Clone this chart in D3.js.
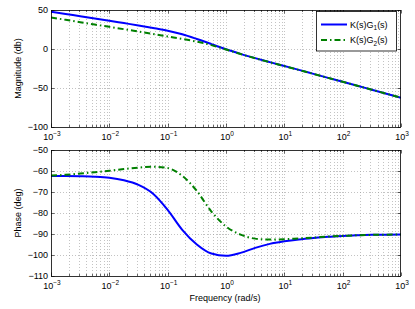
<!DOCTYPE html>
<html><head><meta charset="utf-8">
<script src="https://cdn.jsdelivr.net/npm/d3@7"></script>
<style>
body{margin:0;background:#fff}
text{font-family:"Liberation Sans",Arial,Helvetica,sans-serif;font-size:9px;fill:#000}
</style>
</head><body>
<svg id="c" width="415" height="309"></svg>
<script>
// ---- data ----
const logFreq = [-3,-2.75,-2.5,-2.25,-2,-1.75,-1.5,-1.25,-1,-0.75,-0.5,-0.25,0,0.25,0.5,0.75,1,1.25,1.5,1.75,2,2.25,2.5,2.75,3];
const magG1 = [47.8,44.9,42,39.1,36.2,33.2,30.2,27,23.5,18.8,12.8,6.3,-0.4,-6.3,-11.7,-16.8,-21.8,-26.8,-31.9,-37,-42.1,-47.1,-52.2,-57.3,-62.4];
const magG2 = [40.5,37.4,34.3,31.3,28.4,25.4,22.3,19.2,16,12.9,9.4,5,-0.6,-6.5,-11.9,-16.9,-21.9,-26.9,-31.9,-37,-42.1,-47.1,-52.2,-57.3,-62.4];
const phaseG1 = [-62.4,-62.4,-62.5,-62.7,-63.2,-64.4,-66.6,-70.8,-78.5,-88,-95,-99.3,-100.4,-99,-96.6,-94.7,-93.5,-92.6,-91.9,-91.3,-90.9,-90.6,-90.4,-90.3,-90.2];
const phaseG2 = [-62.2,-61.8,-61.2,-60.6,-59.9,-59.1,-58.4,-58,-58.6,-62.3,-69.5,-79.3,-86.4,-90.3,-92.2,-92.6,-92.5,-92.1,-91.7,-91.2,-90.9,-90.6,-90.4,-90.3,-90.2];
const xTickExps = [-3,-2,-1,0,1,2,3];
const magTicks = [-100,-50,0,50];
const phaseTicks = [-110,-100,-90,-80,-70,-60,-50];
const seriesNames = ["1","2"];
const xLabel = "Frequency (rad/s)";
const magLabel = "Magnitude (db)";
const phaseLabel = "Phase (deg)";

const svg = d3.select("#c");
const X0 = 51, X1 = 401;
const x = d3.scaleLog().domain([1e-3,1e3]).range([X0,X1]);
const freq = logFreq.map(e => Math.pow(10,e));

const minorFreqs = [];
for (let e=-3;e<3;e++) for (let k=2;k<=9;k++) minorFreqs.push(k*Math.pow(10,e));
const majorFreqs = xTickExps.map(e=>Math.pow(10,e));

const minus = s => String(s).replace("-","\u2212");

function panel(id, y0, y1, domain, yTicks, series, ylab) {
  const y = d3.scaleLinear().domain(domain).range([y1,y0]);
  const g = svg.append("g");
  // clip
  svg.append("clipPath").attr("id","clip"+id).append("rect")
    .attr("x",X0).attr("y",y0).attr("width",X1-X0).attr("height",y1-y0);
  g.append("rect").attr("x",X0).attr("y",y0).attr("width",X1-X0).attr("height",y1-y0).attr("fill","#fff");
  // grid
  const grid = g.append("g").attr("stroke","#9a9a9a").attr("stroke-width",0.6).attr("stroke-dasharray","1,2");
  grid.selectAll(".vmin").data(minorFreqs.concat(majorFreqs.slice(1,-1))).join("line")
    .attr("x1",d=>Math.round(x(d))+0.5).attr("x2",d=>Math.round(x(d))+0.5).attr("y1",y0).attr("y2",y1);
  grid.selectAll(".h").data(yTicks.slice(1,-1)).join("line")
    .attr("x1",X0).attr("x2",X1).attr("y1",d=>Math.round(y(d))+0.5).attr("y2",d=>Math.round(y(d))+0.5);
  // ticks (inward, all sides)
  const tk = g.append("g").attr("stroke","#000").attr("stroke-width",0.6);
  majorFreqs.forEach(f=>{
    const px = Math.round(x(f))+0.5;
    tk.append("line").attr("x1",px).attr("x2",px).attr("y1",y1).attr("y2",y1-3.5);
    tk.append("line").attr("x1",px).attr("x2",px).attr("y1",y0).attr("y2",y0+3.5);
  });
  minorFreqs.forEach(f=>{
    const px = Math.round(x(f))+0.5;
    tk.append("line").attr("x1",px).attr("x2",px).attr("y1",y1).attr("y2",y1-2);
    tk.append("line").attr("x1",px).attr("x2",px).attr("y1",y0).attr("y2",y0+2);
  });
  yTicks.forEach(v=>{
    const py = Math.round(y(v))+0.5;
    tk.append("line").attr("x1",X0).attr("x2",X0+3.5).attr("y1",py).attr("y2",py);
    tk.append("line").attr("x1",X1).attr("x2",X1-3.5).attr("y1",py).attr("y2",py);
  });
  // curves
  const line = vals => d3.line().x((d,i)=>x(freq[i])).y(d=>y(d)).curve(d3.curveMonotoneX)(vals);
  const cg = g.append("g").attr("clip-path","url(#clip"+id+")").attr("fill","none");
  cg.append("path").attr("d",line(series[0])).attr("stroke","#0000ff").attr("stroke-width",2);
  cg.append("path").attr("d",line(series[1])).attr("stroke","#008000").attr("stroke-width",2)
    .attr("stroke-dasharray","6,3,1.5,3");
  // box
  g.append("rect").attr("x",X0+0.5).attr("y",y0+0.5).attr("width",X1-X0-1).attr("height",y1-y0)
    .attr("fill","none").attr("stroke","#000").attr("stroke-width",0.8);
  // y tick labels
  yTicks.forEach(v=>{
    g.append("text").attr("x",48).attr("y",y(v)).attr("dy","0.35em").attr("text-anchor","end").text(minus(v));
  });
  // x tick labels
  xTickExps.forEach(e=>{
    const t = g.append("text").attr("x",x(Math.pow(10,e))+1).attr("y",y1+13).attr("text-anchor","middle");
    t.append("tspan").text("10");
    t.append("tspan").attr("dy",-4).style("font-size","6.5px").text(minus(e));
  });
  // y label
  g.append("text").attr("transform",`translate(20.5,${(y0+y1)/2}) rotate(-90)`).attr("text-anchor","middle").text(ylab);
  return y;
}

panel("m", 10, 127, [-100,50], magTicks, [magG1,magG2], magLabel);
panel("p", 150, 276, [-110,-50], phaseTicks, [phaseG1,phaseG2], phaseLabel);

svg.append("text").attr("x",225).attr("y",301).attr("text-anchor","middle").text(xLabel);

// legend
const lg = svg.append("g");
lg.append("rect").attr("x",316.5).attr("y",11.5).attr("width",80).attr("height",39.5)
  .attr("fill","#fff").attr("stroke","#000").attr("stroke-width",0.8);
const legendColors = ["#0000ff","#008000"];
const legendDash = [null,"6,3,1.5,3"];
seriesNames.forEach((n,i)=>{
  const ly = 24.5 + i*15.5;
  lg.append("line").attr("x1",321).attr("x2",347).attr("y1",ly).attr("y2",ly)
    .attr("stroke",legendColors[i]).attr("stroke-width",2).attr("stroke-dasharray",legendDash[i]);
  const t = lg.append("text").attr("x",350).attr("y",ly).attr("dy","0.35em");
  t.append("tspan").text("K(s)G");
  t.append("tspan").attr("dy",2.5).style("font-size","6.5px").text(n);
  t.append("tspan").attr("dy",-2.5).text("(s)");
});
</script>
</body></html>
